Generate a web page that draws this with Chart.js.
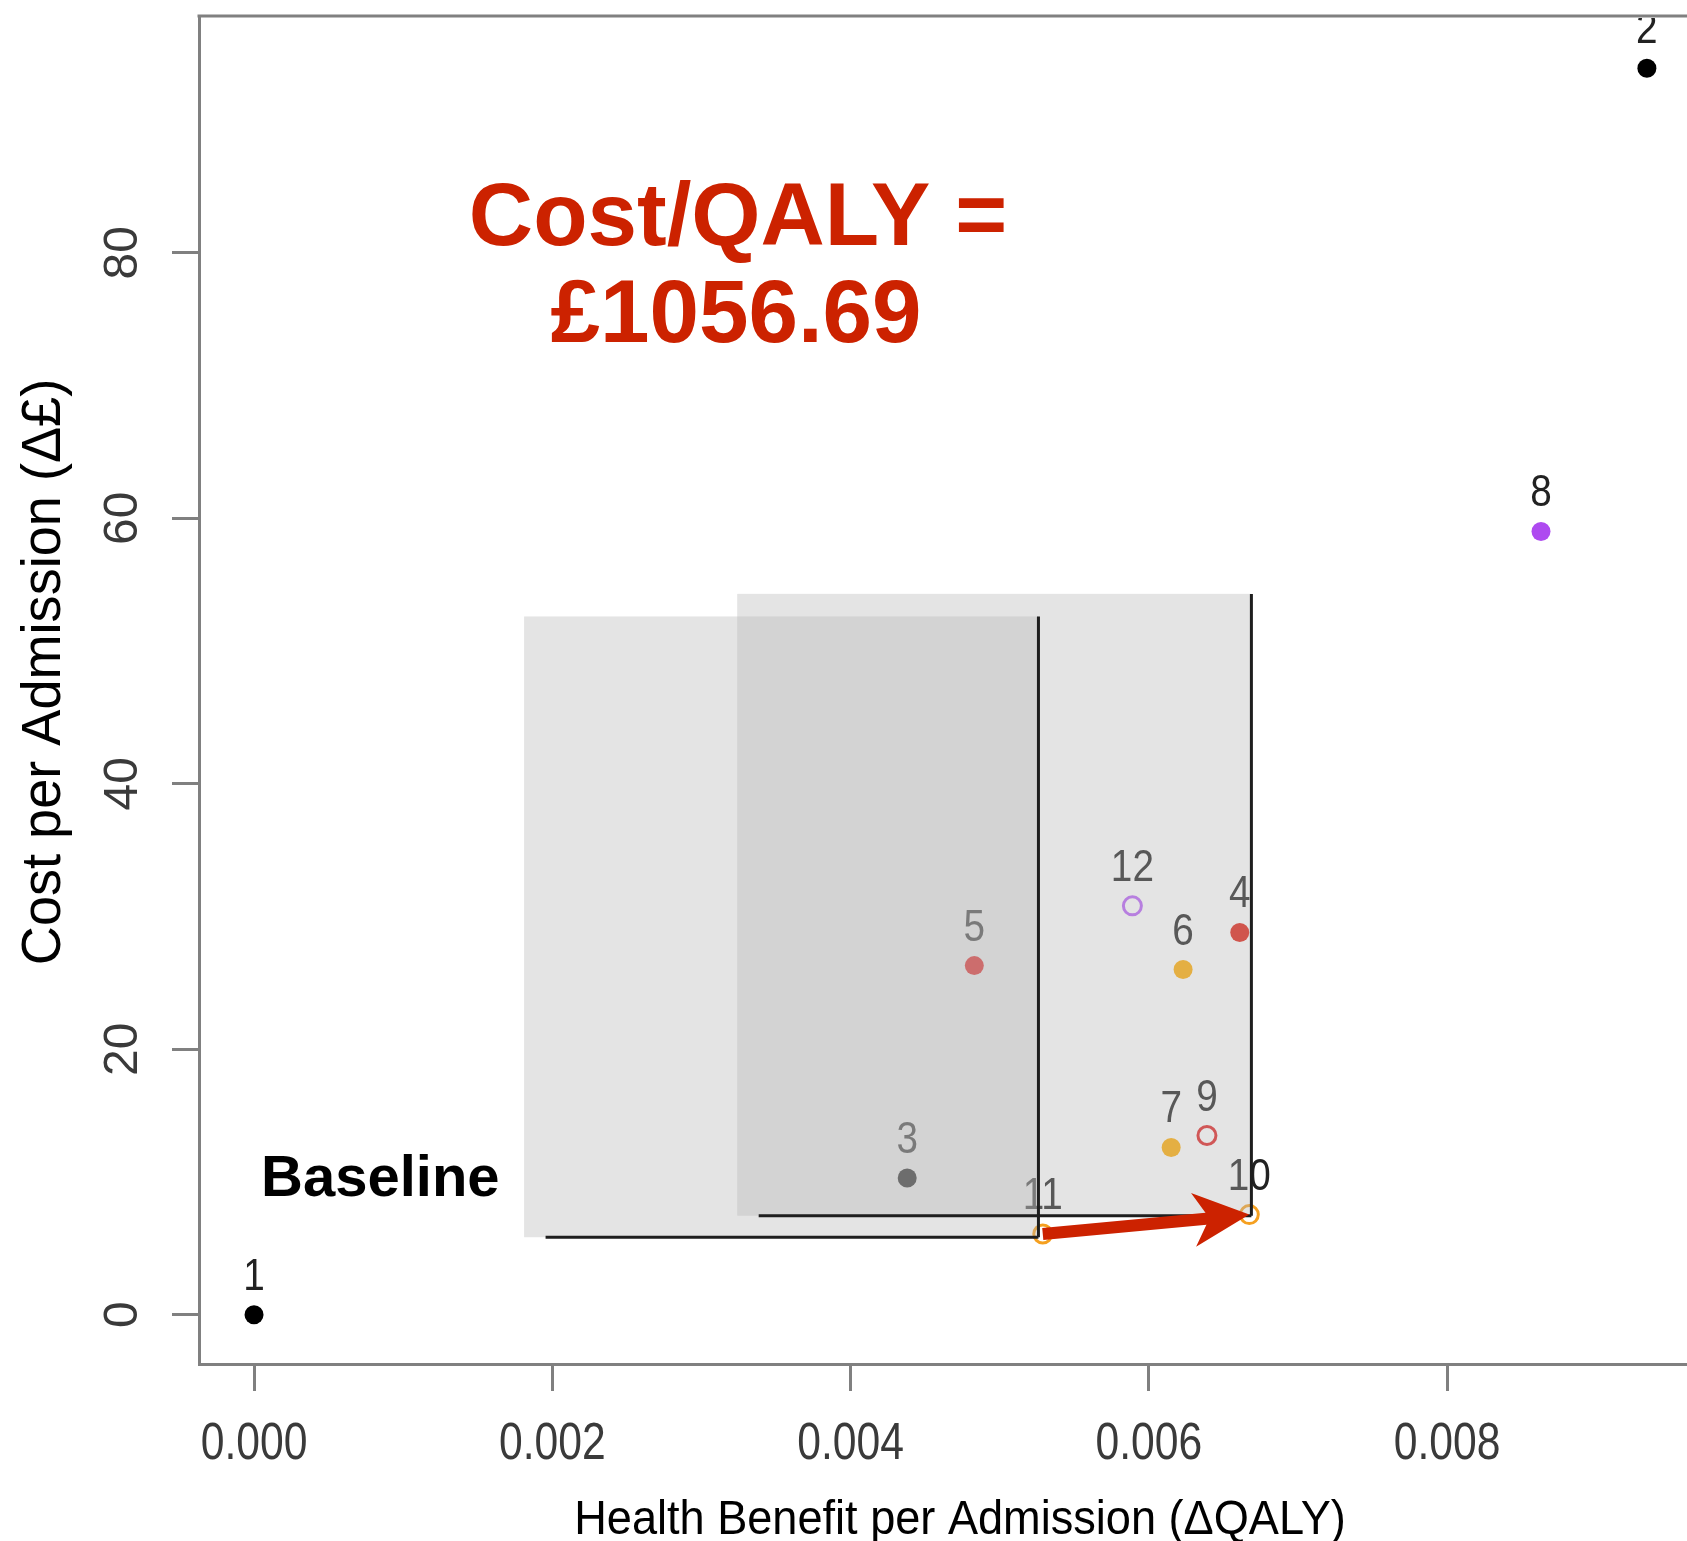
<!DOCTYPE html>
<html>
<head>
<meta charset="utf-8">
<script src="https://cdn.jsdelivr.net/npm/chart.js@4.4.1/dist/chart.umd.min.js"></script>
<style>
  html, body { margin: 0; padding: 0; background: #fff; overflow: hidden; }
  #wrap { width: 1687px; height: 1541px; position: relative; }
</style>
</head>
<body>
<div id="wrap"><canvas id="c" width="1687" height="1541"></canvas></div>
<script>
// Strategies compared against the baseline (strategy 1)
const POINT_IDS  = ['1', '2', '3', '4', '5', '6', '7', '8', '9', '10', '11', '12'];
const QALY_GAIN  = [0, 0.00934, 0.00438, 0.00661, 0.00483, 0.00623, 0.00615, 0.00863, 0.00639, 0.006674, 0.005289, 0.00589];
const COST       = [0, 93.9, 10.3, 28.8, 26.3, 26.0, 12.6, 59.0, 13.5, 7.544, 6.08, 30.8];
const FILLED     = [true, true, true, true, true, true, true, true, false, false, false, false];
const POINT_COLS = ['#000000', '#000000', '#000000', '#e01e10', '#f00000', '#ffac00', '#ffac00', '#ae4af0', '#e02020', '#f5a020', '#f5a020', '#b860f8'];

// Axis ticks
const X_TICKS = [0, 0.002, 0.004, 0.006, 0.008];
const X_TICK_LABELS = ['0.000', '0.002', '0.004', '0.006', '0.008'];
const Y_TICKS = [0, 20, 40, 60, 80];
const Y_TICK_LABELS = ['0', '20', '40', '60', '80'];

// Shaded comparison regions (QALY / cost ranges)
const BOX_X0 = [0.001811, 0.003240];
const BOX_X1 = [0.005260, 0.006688];
const BOX_Y0 = [5.84, 7.46];
const BOX_Y1 = [52.6, 54.3];
const BOX_LINE_START = [0.001955, 0.003384];

// Incremental step: strategy 11 -> strategy 10
const ARROW_FROM = 10;   // index of strategy 11
const ARROW_TO = 9;      // index of strategy 10

const ICER_LINES = ['Cost/QALY =', '£1056.69'];
const BASELINE_TEXT = 'Baseline';
const X_TITLE = 'Health Benefit per Admission (ΔQALY)';
const Y_TITLE = 'Cost per Admission (Δ£)';

const SANS = '"Liberation Sans", Arial, Helvetica, sans-serif';
const AXIS_GREY = '#808080';

function condensedText(ctx, text, x, y, sx, sy) {
  ctx.save();
  ctx.translate(x, y);
  ctx.scale(sx, sy);
  ctx.fillText(text, 0, 0);
  ctx.restore();
}

const annotate = {
  id: 'annotate',
  afterDatasetsDraw(chart) {
    const { ctx, chartArea: a, scales: { x, y } } = chart;

    // strategy numbers above each point
    ctx.save();
    ctx.beginPath();
    ctx.rect(a.left, a.top + 2, a.right - a.left, a.bottom - a.top);
    ctx.clip();
    ctx.fillStyle = '#222';
    ctx.textAlign = 'center';
    ctx.textBaseline = 'alphabetic';
    ctx.font = '44px ' + SANS;
    POINT_IDS.forEach((id, i) => {
      const px = x.getPixelForValue(QALY_GAIN[i]);
      const py = y.getPixelForValue(COST[i]);
      condensedText(ctx, id, px, py - 25, 0.88, 1);
    });
    ctx.restore();

    // translucent grey regions
    ctx.save();
    ctx.fillStyle = 'rgba(182,182,182,0.37)';
    for (let i = 0; i < BOX_X0.length; i++) {
      const l = x.getPixelForValue(BOX_X0[i]);
      const r = x.getPixelForValue(BOX_X1[i]);
      const t = y.getPixelForValue(BOX_Y1[i]);
      const b = y.getPixelForValue(BOX_Y0[i]);
      ctx.fillRect(l, t, r - l, b - t);
    }
    ctx.strokeStyle = '#1e1e1e';
    ctx.lineWidth = 3;
    for (let i = 0; i < BOX_X0.length; i++) {
      const s = x.getPixelForValue(BOX_LINE_START[i]);
      const r = x.getPixelForValue(BOX_X1[i]);
      const t = y.getPixelForValue(BOX_Y1[i]);
      const b = y.getPixelForValue(BOX_Y0[i]);
      ctx.beginPath();
      ctx.moveTo(s, b);
      ctx.lineTo(r, b);
      ctx.moveTo(r, b);
      ctx.lineTo(r, t);
      ctx.stroke();
    }
    ctx.restore();

    // red arrow between the two strategies
    const x1 = x.getPixelForValue(QALY_GAIN[ARROW_FROM]);
    const y1 = y.getPixelForValue(COST[ARROW_FROM]);
    const x2 = x.getPixelForValue(QALY_GAIN[ARROW_TO]);
    const y2 = y.getPixelForValue(COST[ARROW_TO]);
    const ang = Math.atan2(y2 - y1, x2 - x1);
    const headLen = 56, headHalf = 27, notch = 40;
    ctx.save();
    ctx.translate(x1, y1);
    ctx.rotate(ang);
    const len = Math.hypot(x2 - x1, y2 - y1);
    ctx.fillStyle = '#cc2200';
    ctx.fillRect(0, -6, len - notch + 2, 12);
    ctx.beginPath();
    ctx.moveTo(len, 0);
    ctx.lineTo(len - headLen, -headHalf);
    ctx.lineTo(len - notch, 0);
    ctx.lineTo(len - headLen, headHalf);
    ctx.closePath();
    ctx.fill();
    ctx.restore();
  },
  afterDraw(chart) {
    const { ctx, chartArea: a, scales: { x, y } } = chart;
    ctx.save();

    // top frame line
    ctx.strokeStyle = AXIS_GREY;
    ctx.lineWidth = 3;
    ctx.beginPath();
    ctx.moveTo(a.left - 1.5, a.top);
    ctx.lineTo(a.right, a.top);
    ctx.stroke();

    // tick labels
    ctx.fillStyle = '#3a3a3a';
    ctx.font = '52px ' + SANS;
    ctx.textAlign = 'center';
    ctx.textBaseline = 'middle';
    X_TICKS.forEach((v, i) => {
      condensedText(ctx, X_TICK_LABELS[i], x.getPixelForValue(v), 1445, 0.82, 1);
    });
    ctx.font = '48px ' + SANS;
    Y_TICKS.forEach((v, i) => {
      ctx.save();
      ctx.translate(124, y.getPixelForValue(v));
      ctx.rotate(-Math.PI / 2);
      ctx.fillText(Y_TICK_LABELS[i], 0, 0);
      ctx.restore();
    });

    // axis titles
    ctx.fillStyle = '#000';
    ctx.font = '48px ' + SANS;
    ctx.textBaseline = 'alphabetic';
    condensedText(ctx, X_TITLE, 960, 1534, 0.94, 1);
    ctx.save();
    ctx.translate(45, 672);
    ctx.rotate(-Math.PI / 2);
    ctx.font = '56px ' + SANS;
    ctx.textBaseline = 'middle';
    condensedText(ctx, Y_TITLE, 0, 0, 0.966, 1);
    ctx.restore();

    // cost-effectiveness annotation
    ctx.fillStyle = '#cc2200';
    ctx.font = 'bold 89px ' + SANS;
    ctx.textAlign = 'center';
    ctx.textBaseline = 'alphabetic';
    ctx.fillText(ICER_LINES[0], 738, 245);
    ctx.fillText(ICER_LINES[1], 736, 342);

    ctx.fillStyle = '#000';
    ctx.font = 'bold 58px ' + SANS;
    ctx.textAlign = 'left';
    ctx.fillText(BASELINE_TEXT, 261, 1196);
    ctx.restore();
  }
};

new Chart(document.getElementById('c'), {
  type: 'scatter',
  data: {
    datasets: [{
      data: QALY_GAIN.map((v, i) => ({ x: v, y: COST[i] })),
      pointRadius: FILLED.map(f => f ? 9.5 : 9),
      pointHoverRadius: FILLED.map(f => f ? 9.5 : 9),
      pointBorderWidth: FILLED.map(f => f ? 0 : 3),
      pointBackgroundColor: POINT_COLS.map((c, i) => FILLED[i] ? c : 'rgba(0,0,0,0)'),
      pointBorderColor: POINT_COLS,
      showLine: false
    }]
  },
  options: {
    responsive: false,
    devicePixelRatio: 1,
    animation: false,
    events: [],
    layout: { autoPadding: false, padding: { top: 16, right: 0, left: 0, bottom: 0 } },
    plugins: { legend: { display: false }, tooltip: { enabled: false } },
    scales: {
      x: {
        type: 'linear',
        min: -0.000369,
        max: 0.009609,
        afterBuildTicks: s => { s.ticks = X_TICKS.map(v => ({ value: v })); },
        afterFit: s => { s.height = 177; },
        ticks: { display: false },
        grid: { drawOnChartArea: false, drawTicks: true, tickLength: 27, color: AXIS_GREY, lineWidth: 3 },
        border: { display: true, color: AXIS_GREY, width: 3 }
      },
      y: {
        type: 'linear',
        min: -3.71,
        max: 97.83,
        afterBuildTicks: s => { s.ticks = Y_TICKS.map(v => ({ value: v })); },
        afterFit: s => { s.width = 199; },
        ticks: { display: false },
        grid: { drawOnChartArea: false, drawTicks: true, tickLength: 27, color: AXIS_GREY, lineWidth: 3 },
        border: { display: true, color: AXIS_GREY, width: 3 }
      }
    }
  },
  plugins: [annotate]
});
</script>
</body>
</html>
